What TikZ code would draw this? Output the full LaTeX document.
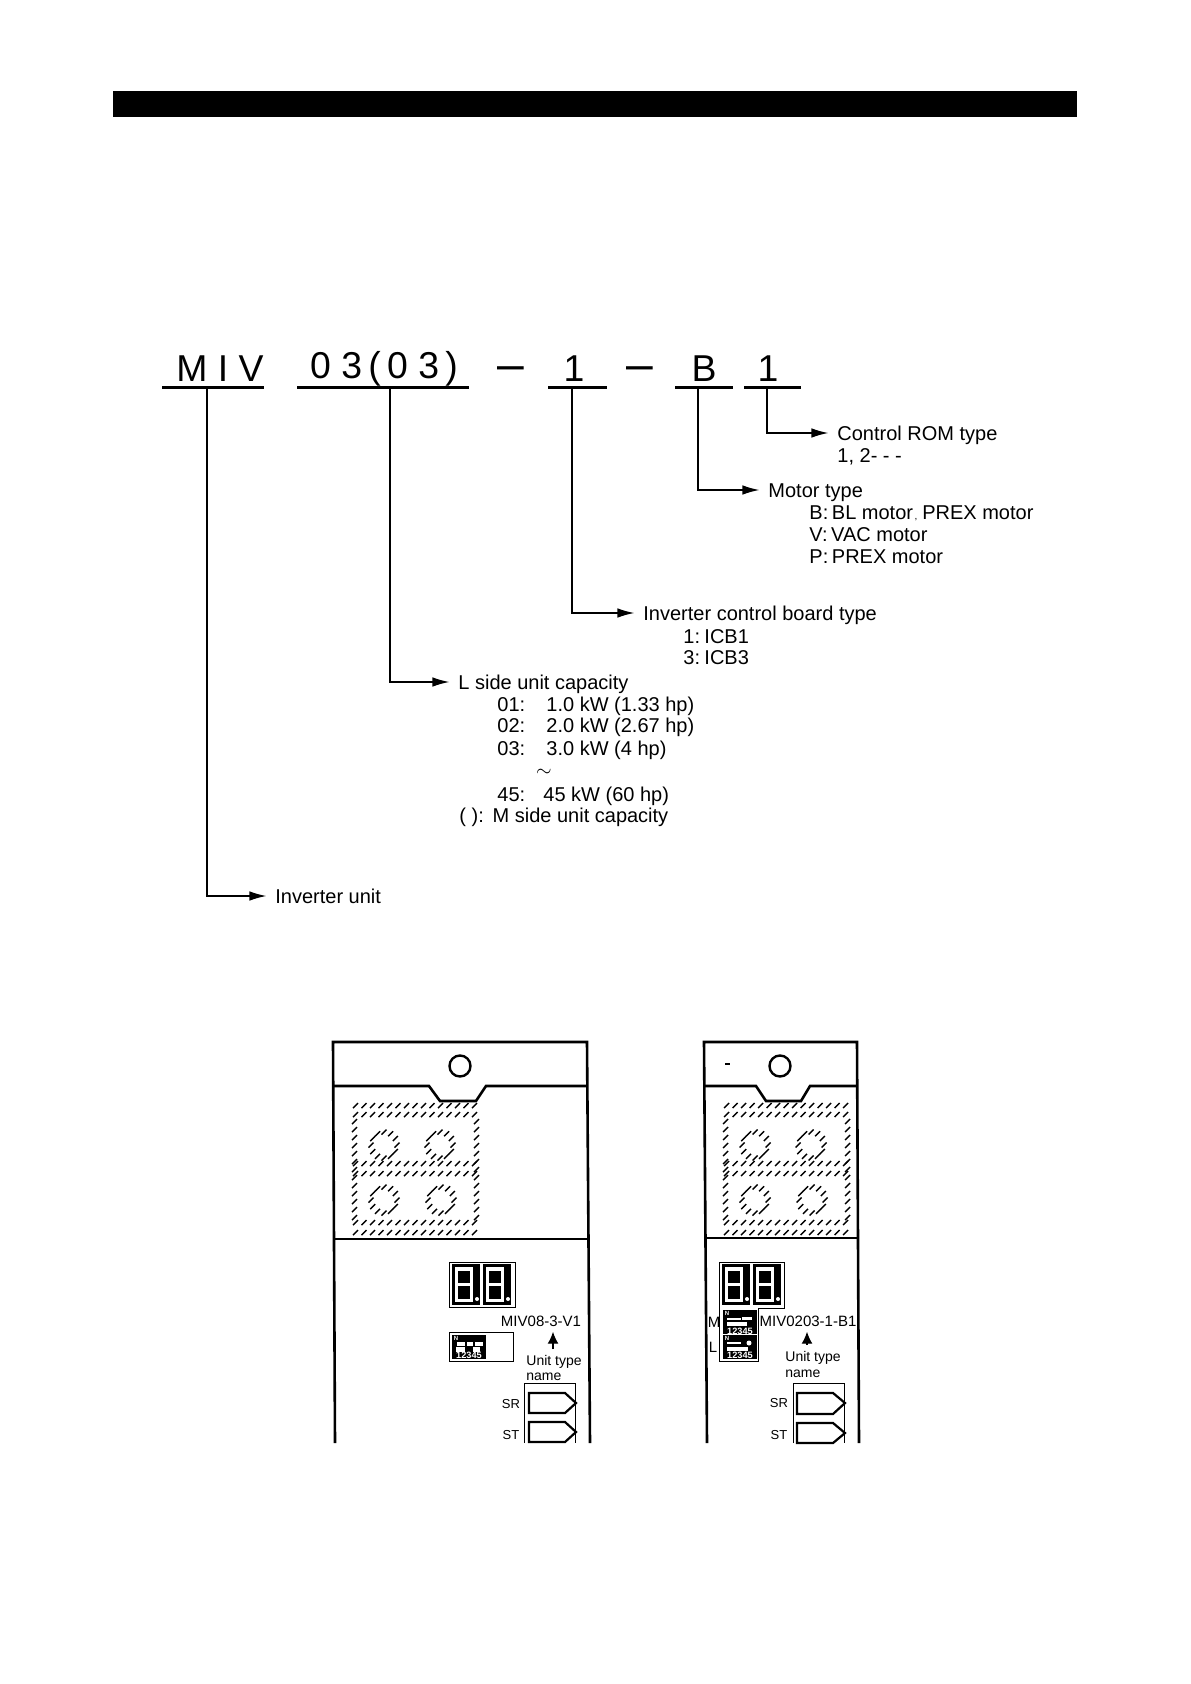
\documentclass[tikz,border=0pt]{standalone}
\usepackage{fontspec}
\setmainfont{Liberation Sans}
\usetikzlibrary{arrows.meta,calc}

\begin{document}
\begin{tikzpicture}[
  x=0.5pt,
  y=-0.5pt,
  >=Latex,
  font=\fontsize{10}{12}\selectfont,
  line/.style={draw=black,line width=0.7pt},
  arrow/.style={line,shorten >=4.3pt,-{Latex[length=8.5pt,width=4.8pt]}},
  uline/.style={draw=black,line width=1.5pt},
  titleword/.style={inner sep=0pt,font=\fontsize{18.7}{20}\selectfont},
  titledash/.style={inner sep=0pt,font=\fontsize{24}{24}\selectfont},
  label/.style={anchor=west,inner sep=0pt,text height=8.7pt,text depth=1pt},
  casing/.style={draw=black,line width=1.3pt},
  hatch/.style={draw=black,line width=0.7pt},
  thinbox/.style={draw=black,line width=0.5pt},
  tag/.style={inner sep=0pt,font=\fontsize{7.5}{8}\selectfont},
  smalltag/.style={inner sep=0pt,anchor=west,font=\fontsize{7}{8}\selectfont},
  sigtag/.style={inner sep=0pt,font=\fontsize{6.5}{7}\selectfont},
  dipnum/.style={inner sep=0pt,text=white,font=\bfseries\fontsize{4.6}{5}\selectfont},
  dipon/.style={inner sep=0pt,text=white,font=\bfseries\fontsize{3}{3}\selectfont},
  pointer/.style={draw=black,line width=0.7pt,shorten >=2.5pt,shorten <=3pt,-{Latex[length=6pt,width=5.5pt]}},
  signal/.style={draw=black,line width=1.1pt}
]

% Page heading bar
\fill[black] (113,91) rectangle (1077,117);

% Type code
\node[titleword] (miv) at (220,369) {M I V};
\node[titleword] (capacity) at (384,369) {0 3\,(\,0 3\,)};
\node[titledash] (dasha) at (511,374) {–};
\node[titleword] (board) at (574,369) {1};
\node[titledash] (dashb) at (640,374) {–};
\node[titleword] (motor) at (704,369) {B};
\node[titleword] (rom) at (768,369) {1};
\draw[uline] (162,388) -- (264,388);
\draw[uline] (297,388) -- (469,388);
\draw[uline] (548,388) -- (607,388);
\draw[uline] (675,388) -- (733,388);
\draw[uline] (744,388) -- (801,388);
\coordinate (mivdrop) at (207,388);
\coordinate (capacitydrop) at (390,388);
\coordinate (boarddrop) at (572,388);
\coordinate (motordrop) at (698,388);
\coordinate (romdrop) at (767,388);

% Control ROM
\node[label] (romtype) at (837,433) {Control ROM type};
\node[label] at (837,455) {1, 2- - -};
\draw[arrow] (romdrop) |- (romtype.west);

% Motor type
\node[label] (motortype) at (768,490) {Motor type};
\node[label] at (809,512) {B:\hspace{1.8pt}BL motor{\tiny\,,}\hspace{2.4pt}PREX motor};
\node[label] at (809,534) {V:\hspace{1.8pt}VAC motor};
\node[label] at (809,556) {P:\hspace{1.8pt}PREX motor};
\draw[arrow] (motordrop) |- (motortype.west);

% Inverter control board
\node[label] (boardtype) at (643,613) {Inverter control board type};
\node[label] at (683,636) {1:\hspace{2.2pt}ICB1};
\node[label] at (683,657) {3:\hspace{2.2pt}ICB3};
\draw[arrow] (boarddrop) |- (boardtype.west);

% Unit capacity
\node[label] (lside) at (458,682) {L side unit capacity};
\node[label] at (497,704) {01:};
\node[label] at (546,704) {1.0 kW (1.33 hp)};
\node[label] at (497,725) {02:};
\node[label] at (546,725) {2.0 kW (2.67 hp)};
\node[label] at (497,748) {03:};
\node[label] at (546,748) {3.0 kW (4 hp)};
\node[inner sep=0pt] at (544,773) {$\sim$};
\node[label] at (497,794) {45:};
\node[label] at (543,794) {45 kW (60 hp)};
\node[label] at (459,815) {( ):\hspace{4.4pt}M side unit capacity};
\draw[arrow] (capacitydrop) |- (lside.west);

% Inverter unit
\node[label] (invunit) at (275,896) {Inverter unit};
\draw[arrow] (mivdrop) |- (invunit.west);

% Left unit casing
\draw[casing] (335,1443) -- (333,1042) -- (587,1042) -- (590,1443);
\draw[casing] (333,1086) -- (429,1086) -- (440,1101) -- (476,1101) -- (486,1086) -- (587,1086);
\draw[casing] (334,1239) -- (588,1239);
\node[draw=black,line width=1.2pt,circle,minimum size=10.5pt,inner sep=0pt] (lefthole) at (460,1066) {};

% Right unit casing
\draw[casing] (707,1443) -- (704,1042) -- (857,1042) -- (859,1443);
\draw[casing] (704,1086) -- (756,1086) -- (766,1101) -- (801,1101) -- (810,1086) -- (857,1086);
\draw[casing] (705,1238) -- (858,1238);
\node[draw=black,line width=1.2pt,circle,minimum size=10.5pt,inner sep=0pt] (righthole) at (780,1066) {};
\draw[line] (725,1064) -- (730,1064);

% Hatched terminal blocks
\foreach \ux in {0,371}{
  \begin{scope}[shift={(\ux,0)}]
    \foreach \ry in {1108,1117,1166,1176,1225,1235}
      \foreach \rx in {353,361.5,...,476}
        \draw[hatch] (\rx,\ry) -- ++(5,-5);
    \foreach \cx in {352,474}
      \foreach \cy in {1124,1132,...,1222}
        \draw[hatch] (\cx,\cy) -- ++(5,-5);
    \foreach \hx/\hy in {384/1145,440/1145,384/1200,441/1200}
      \foreach \ang in {0,30,...,330}
        \draw[hatch] (\hx,\hy) ++(\ang:13) ++(-2.5,2.5) -- ++(5,-5);
  \end{scope}
}

% Seven segment digits
\foreach \dx in {452,483,722,753}{
  \begin{scope}[shift={(\dx,0)}]
    \fill[black] (0,1264) rectangle (28,1305);
    \fill[white] (3,1267) rectangle (21,1302);
    \fill[black] (6,1270.5) rectangle (18,1283);
    \fill[black] (6,1286) rectangle (18,1298.5);
    \fill[white] (25,1299) circle (2);
  \end{scope}
}

% Left unit panel
\draw[thinbox] (449,1262) rectangle (515,1307);
\draw[thinbox] (449,1332) rectangle (513,1361);
\fill[black] (452,1335) rectangle (486,1359);
\foreach \sx/\sy/\sw/\sh in {457/1342/8/4,467/1342/6/4,475/1342/8/4,456/1347/9/5,473/1347/7/5}
  \fill[white] (\sx,\sy) rectangle ++(\sw,\sh);
\node[dipon] (leftdipon) at (456,1338) {N};
\node[dipnum] (leftdip) at (469,1355) {12345};
\node[tag] (leftname) at (541,1321) {MIV08-3-V1};
\node[smalltag] (leftunit) at (526,1362) {Unit type};
\node[smalltag] (leftword) at (526,1377) {name};
\draw[pointer] (leftunit.north -| 553,1348) -- (leftname.south -| 553,1331);
\draw[thinbox] (524,1443) -- (524,1383) -- (575,1383) -- (575,1443);
\draw[signal] (529,1393) -- (565,1393) -- (576,1403) -- (565,1413) -- (529,1413) -- cycle;
\draw[signal] (529,1422) -- (565,1422) -- (576,1432) -- (565,1442) -- (529,1442) -- cycle;
\node[sigtag] (leftsr) at (511,1404) {SR};
\node[sigtag] (leftst) at (511,1435) {ST};

% Right unit panel
\draw[thinbox] (719,1262) -- (784,1262) -- (784,1308) -- (758,1308) -- (758,1361) -- (719,1361) -- cycle;
\fill[black] (723,1310) rectangle (757,1359);
\draw[white,line width=0.5pt] (723,1334) -- (757,1334);
\foreach \sx/\sy/\sw/\sh in {727/1318/14/2,742/1317/10/3,727/1322/20/4,727/1342/14/2,727/1347/21/4}
  \fill[white] (\sx,\sy) rectangle ++(\sw,\sh);
\fill[white] (749,1343) circle (2.5);
\node[dipon] (rightdipmon) at (727,1313) {N};
\node[dipon] (rightdiplon) at (727,1338) {N};
\node[dipnum] (rightdipm) at (740,1331) {12345};
\node[dipnum] (rightdipl) at (740,1355) {12345};
\node[tag] (rightm) at (714,1322) {M};
\node[tag] (rightl) at (713,1347) {L};
\node[tag] (rightname) at (808,1321) {MIV0203-1-B1};
\node[smalltag] (rightunit) at (785,1358) {Unit type};
\node[smalltag] (rightword) at (785,1374) {name};
\draw[pointer] (rightunit.north -| 807,1346) -- (rightname.south -| 807,1331);
\draw[thinbox] (793,1443) -- (793,1383) -- (844,1383) -- (844,1443);
\draw[signal] (797,1393) -- (833,1393) -- (845,1403) -- (833,1414) -- (797,1414) -- cycle;
\draw[signal] (797,1423) -- (833,1423) -- (845,1433) -- (833,1443) -- (797,1443) -- cycle;
\node[sigtag] (rightsr) at (779,1403) {SR};
\node[sigtag] (rightst) at (779,1435) {ST};

\useasboundingbox (0,0) rectangle (1190,1684);
\end{tikzpicture}
\end{document}
